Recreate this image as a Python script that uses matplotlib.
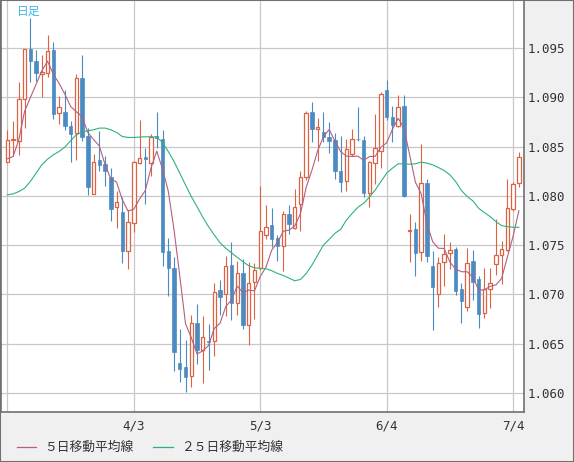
import numpy as np
import pandas as pd
import matplotlib
matplotlib.use('Agg')
import matplotlib.pyplot as plt
from matplotlib.lines import Line2D
from matplotlib.patches import Rectangle

# daily OHLC, index 0..89
opens = [1.08348, 1.08565, 1.08552, 1.08982, 1.09490, 1.09365, 1.09239, 1.09246, 1.09483, 1.08839,
         1.08853, 1.08711, 1.08636, 1.09199, 1.08602, 1.08016, 1.08365, 1.08325, 1.08196, 1.07884,
         1.07837, 1.07440, 1.07722, 1.08338, 1.08396, 1.08331, 1.08609, 1.08579, 1.07440, 1.07271,
         1.06302, 1.06262, 1.06173, 1.06715, 1.06434, 1.06529, 1.06533, 1.07041, 1.07000, 1.07298,
         1.06909, 1.07213, 1.06688, 1.07129, 1.07264, 1.07603, 1.07701, 1.07573, 1.07495, 1.07813,
         1.07671, 1.07918, 1.08189, 1.08850, 1.08677, 1.08646, 1.08599, 1.08565, 1.08253, 1.08148,
         1.08423, 1.08579, 1.08568, 1.08026, 1.08331, 1.08450, 1.09077, 1.08799, 1.08704, 1.08914,
         1.07644, 1.07661, 1.07427, 1.08128, 1.07291, 1.07000, 1.07325, 1.07417, 1.07461, 1.07051,
         1.06868, 1.07339, 1.07152, 1.06807, 1.07051, 1.07305, 1.07396, 1.07451, 1.07864, 1.08128]
highs = [1.08670, 1.08762, 1.09155, 1.09493, 1.09805, 1.09483, 1.09432, 1.09636, 1.09558, 1.09009,
         1.09070, 1.08755, 1.09239, 1.09432, 1.08687, 1.08426, 1.08653, 1.08399, 1.08281, 1.08054,
         1.07993, 1.07857, 1.08358, 1.08772, 1.08484, 1.08629, 1.08853, 1.08670, 1.07573, 1.07383,
         1.06648, 1.06536, 1.06790, 1.06902, 1.06780, 1.06705, 1.07112, 1.07146, 1.07390, 1.07532,
         1.07339, 1.07359, 1.07325, 1.07322, 1.08104, 1.07908, 1.07874, 1.07603, 1.07847, 1.07908,
         1.08071, 1.08257, 1.08863, 1.08955, 1.08792, 1.08853, 1.08748, 1.08636, 1.08609, 1.08575,
         1.08680, 1.08897, 1.08602, 1.08355, 1.08833, 1.09050, 1.09171, 1.08907, 1.09022, 1.09022,
         1.07816, 1.07735, 1.08528, 1.08172, 1.07444, 1.07383, 1.07610, 1.07529, 1.07484, 1.07112,
         1.07468, 1.07451, 1.07186, 1.07264, 1.07264, 1.07766, 1.07545, 1.08172, 1.08145, 1.08440]
lows = [1.08338, 1.08399, 1.08416, 1.08687, 1.09151, 1.09161, 1.08999, 1.09205, 1.08782, 1.08731,
        1.08670, 1.08348, 1.08365, 1.08552, 1.08010, 1.08016, 1.08247, 1.08104, 1.07749, 1.07678,
        1.07315, 1.07254, 1.07637, 1.08321, 1.07915, 1.08203, 1.08484, 1.07291, 1.06986, 1.06224,
        1.06113, 1.06011, 1.06062, 1.06292, 1.06102, 1.06231, 1.06377, 1.06790, 1.06783, 1.06739,
        1.06790, 1.06654, 1.06492, 1.06749, 1.07247, 1.07559, 1.07484, 1.07342, 1.07241, 1.07610,
        1.07661, 1.07647, 1.08162, 1.08541, 1.08358, 1.08541, 1.08433, 1.08172, 1.08043, 1.08054,
        1.08406, 1.08552, 1.07993, 1.07884, 1.08118, 1.08281, 1.08772, 1.08541, 1.08697, 1.07993,
        1.07332, 1.07190, 1.07342, 1.07332, 1.06644, 1.06868, 1.07088, 1.07254, 1.06993, 1.06712,
        1.06834, 1.06942, 1.06661, 1.06766, 1.06858, 1.07197, 1.07102, 1.07444, 1.07847, 1.08087]
closes = [1.08568, 1.08572, 1.08982, 1.09490, 1.09365, 1.09246, 1.09253, 1.09473, 1.08833, 1.08900,
          1.08704, 1.08629, 1.09195, 1.08596, 1.08094, 1.08341, 1.08308, 1.08247, 1.07867, 1.07938,
          1.07444, 1.07732, 1.08341, 1.08382, 1.08369, 1.08592, 1.08582, 1.07427, 1.07271, 1.06417,
          1.06245, 1.06163, 1.06715, 1.06441, 1.06573, 1.06519, 1.07027, 1.06976, 1.07288, 1.06915,
          1.07213, 1.06695, 1.07112, 1.07247, 1.07644, 1.07688, 1.07559, 1.07495, 1.07813, 1.07711,
          1.07891, 1.08189, 1.08839, 1.08677, 1.08697, 1.08596, 1.08555, 1.08247, 1.08145, 1.08474,
          1.08575, 1.08572, 1.08033, 1.08341, 1.08484, 1.09033, 1.08799, 1.08714, 1.08900, 1.07999,
          1.07650, 1.07423, 1.08135, 1.07393, 1.07071, 1.07322, 1.07410, 1.07447, 1.07037, 1.06936,
          1.07322, 1.07129, 1.06797, 1.07051, 1.07112, 1.07396, 1.07464, 1.07874, 1.08121, 1.08392]

# 5-day MA: first four points depend on earlier days
ma5_head = [1.08375, 1.08399, 1.08568, 1.08856]

# 25-day MA
ma25 = [1.08010, 1.08020, 1.08043, 1.08077, 1.08145, 1.08230, 1.08314, 1.08372, 1.08416, 1.08450,
        1.08494, 1.08558, 1.08619, 1.08646, 1.08660, 1.08670, 1.08687, 1.08687, 1.08670, 1.08643,
        1.08602, 1.08592, 1.08592, 1.08596, 1.08599, 1.08599, 1.08596, 1.08541, 1.08450, 1.08348,
        1.08230, 1.08111, 1.07993, 1.07891, 1.07783, 1.07688, 1.07603, 1.07525, 1.07468, 1.07423,
        1.07376, 1.07332, 1.07291, 1.07271, 1.07264, 1.07261, 1.07241, 1.07213, 1.07193, 1.07166,
        1.07139, 1.07152, 1.07213, 1.07298, 1.07400, 1.07501, 1.07559, 1.07620, 1.07661, 1.07755,
        1.07823, 1.07884, 1.07925, 1.07986, 1.08060, 1.08145, 1.08230, 1.08281, 1.08325, 1.08325,
        1.08321, 1.08325, 1.08342, 1.08331, 1.08314, 1.08287, 1.08257, 1.08213, 1.08145, 1.08054,
        1.07993, 1.07949, 1.07874, 1.07830, 1.07789, 1.07739, 1.07698, 1.07688, 1.07681, 1.07681]

tick_pos = [0, 22, 44, 66, 88]
tick_labels = ['', '4/3', '5/3', '6/4', '7/4']
y_ticks = [1.060, 1.065, 1.070, 1.075, 1.080, 1.085, 1.090, 1.095]

UP = '#db6243'
DOWN = '#4b8bc2'
MA5_C = '#b3607f'
MA25_C = '#2fb27a'
JP = ['Noto Sans CJK JP', 'DejaVu Sans']

df = pd.DataFrame({'open': opens, 'high': highs, 'low': lows, 'close': closes})
ma5 = df['close'].rolling(5).mean().to_numpy()
ma5[:4] = ma5_head
x = np.arange(len(df))

fig = plt.figure(figsize=(5.74, 4.62), dpi=100, facecolor='#f0f0f0')
ax = fig.add_axes([1 / 574, 1 - 411.5 / 462, 522.5 / 574, 411 / 462])
ax.set_facecolor('white')

up = df['close'] >= df['open']
dn = ~up
w = 0.6

# wicks
ax.vlines(x[up], df['low'][up], df['high'][up], color=UP, lw=0.8, zorder=2)
ax.vlines(x[dn], df['low'][dn], df['high'][dn], color=DOWN, lw=0.8, zorder=2)

# bodies
body_lo = np.minimum(df['open'], df['close'])
body_h = np.maximum((df['close'] - df['open']).abs(), 0.00004)
ax.bar(x[up], body_h[up], w, bottom=body_lo[up], facecolor='white',
       edgecolor=UP, linewidth=0.9, zorder=3)
ax.bar(x[dn], body_h[dn], w, bottom=body_lo[dn], facecolor=DOWN,
       edgecolor=DOWN, linewidth=0.5, zorder=3)

ax.plot(x, ma5, color=MA5_C, lw=0.8, zorder=4)
ax.plot(x, ma25, color=MA25_C, lw=0.8, zorder=4)

ax.set_xlim(-1.1, 89.8)
ax.set_ylim(1.05813, 1.09981)
ax.set_xticks(tick_pos)
ax.set_xticklabels(tick_labels)
ax.set_yticks(y_ticks)
ax.set_yticklabels([f'{v:.3f}' for v in y_ticks])
ax.yaxis.tick_right()
ax.tick_params(axis='both', length=0, labelsize=9, labelcolor='#333333')
ax.tick_params(axis='y', pad=3)
ax.tick_params(axis='x', pad=6)
for lab in ax.get_xticklabels() + ax.get_yticklabels():
    lab.set_family('DejaVu Sans Mono')
ax.grid(True, color='#c8c8c8', lw=0.9, zorder=0)
ax.set_axisbelow(True)
for s in ax.spines.values():
    s.set_color('#707070')
    s.set_linewidth(1.2)

# label in the corner
ax.text(0.03, 0.99, '日足', transform=ax.transAxes, fontsize=8.5,
        color='#3fb5e5', family=JP, va='top', ha='left')

# legend
fig.add_artist(Line2D([17 / 574, 36 / 574], [1 - 447 / 462] * 2, color=MA5_C, lw=0.9))
fig.text(44 / 574, 1 - 447 / 462, '５日移動平均線', fontsize=9.2, family=JP,
         color='#333333', va='center')
fig.add_artist(Line2D([153 / 574, 173 / 574], [1 - 447 / 462] * 2, color=MA25_C, lw=0.9))
fig.text(181 / 574, 1 - 447 / 462, '２５日移動平均線', fontsize=9.2, family=JP,
         color='#333333', va='center')

# outer frame
fig.add_artist(Rectangle((0, 0), 1, 1, transform=fig.transFigure, fill=False,
                         edgecolor='#707070', lw=1.5))

fig.savefig('out.png', dpi=100, facecolor=fig.get_facecolor())
